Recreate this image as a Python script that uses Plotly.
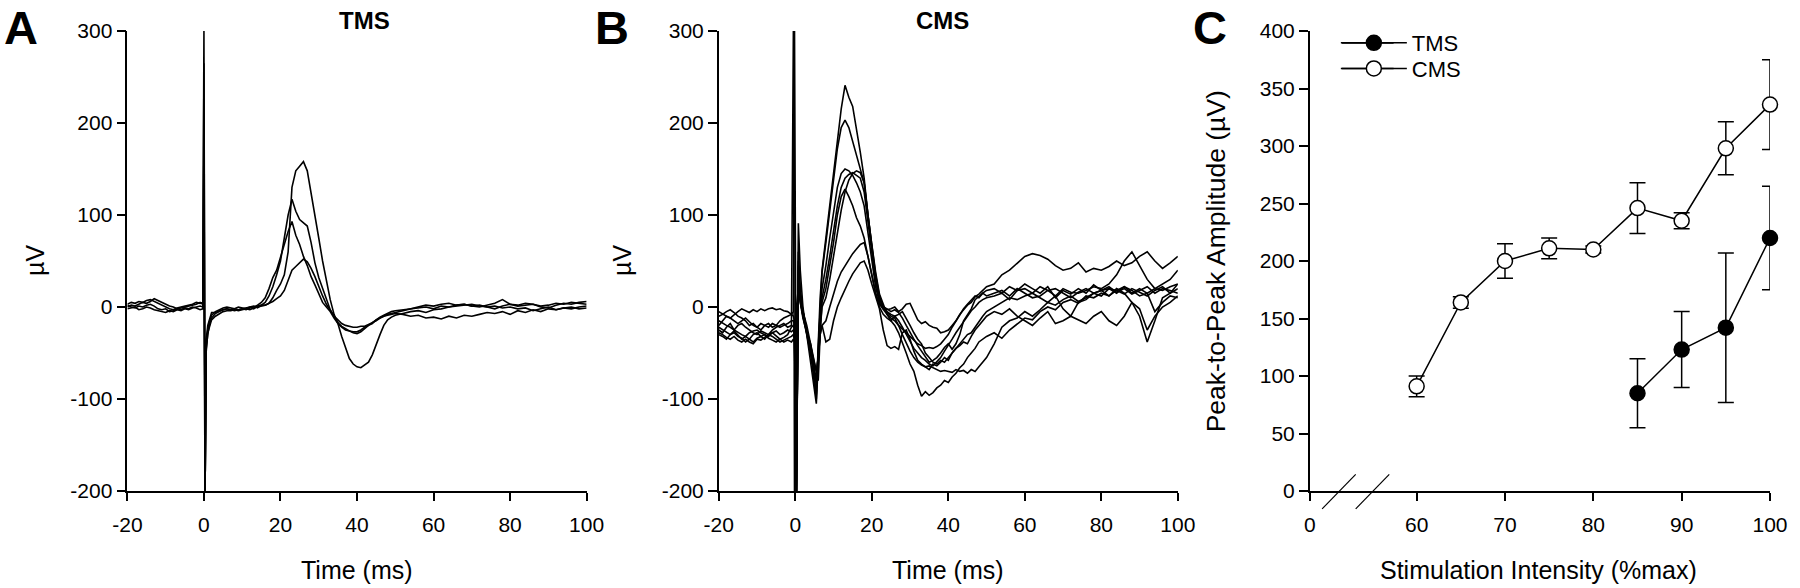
import plotly.graph_objects as go

W, H = 1800, 588
ML, MR, MT, MB = 127, 23, 31, 97
FONT = "Liberation Sans, Arial, sans-serif"

# ---------------- Panel A: TMS evoked traces (time in ms, amplitude in uV) ----------------
TIME_A = [-20, -19, -18, -17, -16, -15, -14, -13, -12, -11, -10, -9, -8, -7, -6, -5, -4, -3, -2, -1,
          -0.3, 0, 0.3, 0.6, 1, 1.5, 2,
          3, 4, 5, 6, 7, 8, 9, 10, 11, 12, 13, 14, 15, 16, 17, 18, 19, 20, 21, 22, 23, 24, 25, 26,
          27, 28, 29, 30, 31, 32, 33, 34, 35, 36, 37, 38, 39, 40, 41, 42, 43, 44, 45, 46, 47, 48, 49, 50,
          52, 54, 56, 58, 60, 62, 64, 66, 68, 70, 72, 74, 76, 78, 80, 82, 84, 86, 88, 90, 92, 94, 96, 98, 100]

TMS_TRACE_1 = [3, 5, 4, 6, 5, 7, 8, 6, 4, 2, 0, -2, -3, -1, 0, 1, 2, 3, 5, 4,
               5, 300, -200, -45, -30, -18, -12,
               -7, -5, -3, -2, -3, -2, -3, -2, -1, 0, -2, 1, 2, 2, 4, 10, 18, 25, 35, 60, 130, 148, 153, 158,
               148, 125, 100, 75, 50, 28, 8, -8, -18, -32, -45, -56, -62, -65, -66, -63, -60, -52, -40, -30, -20, -14, -11, -9,
               -7, -5, -4, -6, -3, -2, 0, 1, 2, 3, 1, 0, -2, 1, 3, 2, 4, 3, 1, 2, 4, 3, 5, 4, 3]
TMS_TRACE_2 = [0, 2, 1, 3, 5, 4, 6, 9, 7, 5, 3, 1, 0, -2, -1, 0, 1, 2, 3, 5,
               3, 265, -200, -40, -25, -15, -9,
               -5, -3, -1, 0, -1, -2, 0, -1, -2, 0, 1, -1, 2, 5, 12, 22, 35, 50, 75, 100, 117, 104, 95, 92,
               88, 70, 48, 32, 20, 10, -3, -10, -17, -21, -24, -26, -28, -29, -27, -23, -20, -18, -14, -12, -10, -8, -7, -6,
               -4, -2, 0, 2, 1, 3, 4, 2, 3, 1, 0, 2, 4, 8, 3, 1, 2, 3, 0, -1, 2, 4, 3, 5, 6]
TMS_TRACE_3 = [-2, -1, 0, -3, -2, 0, -1, -3, -4, -5, -6, -4, -5, -3, -4, -2, -3, -1, 0, 1,
               0, 180, -200, -35, -20, -12, -6,
               -6, -4, -3, -2, -3, -4, -3, -2, -3, -1, 0, 2, 5, 10, 20, 32, 40, 55, 70, 82, 93, 78, 68, 55,
               45, 33, 24, 14, 5, 0, -5, -12, -18, -22, -25, -26, -27, -27, -25, -22, -20, -17, -15, -12, -10, -9, -8, -7,
               -8, -10, -9, -12, -11, -13, -10, -12, -9, -10, -8, -6, -7, -5, -8, -4, -6, -3, -5, -2, -3, -1, -2, 0, 1]
TMS_TRACE_4 = [2, 0, -1, 1, 0, 2, 3, 1, -2, -3, -2, -5, -4, -2, -3, -1, -2, 0, -1, -3,
               -2, 22, -200, -48, -28, -20, -14,
               -10, -7, -5, -4, -4, -3, -4, -3, -2, -3, -1, 0, 1, 2, 4, 6, 9, 12, 18, 28, 40, 44, 48, 52,
               49, 42, 33, 22, 12, 3, -4, -10, -14, -18, -20, -21, -22, -22, -21, -21, -19, -17, -14, -11, -9, -7, -5, -4,
               -3, -2, -1, 0, -2, 1, 0, 2, 3, 1, 2, 0, 1, -1, 0, -2, -1, -4, -2, 0, -3, -1, 0, -2, -1]

# ---------------- Panel B: CMS evoked traces ----------------
TIME_B = [-20, -19, -18, -17, -16, -15, -14, -13, -12, -11, -10, -9, -8, -7, -6, -5, -4, -3, -2, -1,
          -0.5, -0.2, 0.3, 0.8, 1.3, 2, 3, 4, 4.5, 5, 5.5, 6, 6.5,
          7, 8, 9, 10, 11, 12, 13, 14, 15, 16, 17, 18, 19, 20, 21, 22, 23, 24, 25, 26,
          27, 28, 29, 30, 31, 32, 33, 34, 35, 36, 37, 38, 39, 40, 41, 42, 43, 44, 45, 46, 47, 48, 49, 50,
          52, 54, 56, 58, 60, 62, 64, 66, 68, 70, 72, 74, 76, 78, 80, 82, 84, 86, 88, 90, 92, 94, 96, 98, 100]

CMS_TRACE_1 = [-10, -8, -5, -3, -6, -10, -12, -15, -20, -18, -22, -25, -20, -18, -22, -20, -15, -12, -10, -8,
               -5, 300, -200, 30, 10, -5, -25, -45, -60, -80, -95, -40, 10,
               40, 75, 110, 145, 180, 215, 241, 228, 218, 195, 168, 140, 100, 68, 38, 14, 2, -8, -15, -20,
               -28, -38, -50, -62, -70, -85, -97, -92, -96, -93, -88, -85, -80, -82, -76, -72, -66, -62, -55, -50, -45, -38, -35, -32,
               -28, -34, -25, -18, -12, -14, -5, 0, -3, 5, 8, 4, 12, 10, 15, 12, 18, 14, 20, 16, 12, 18, 22, 15, 20]
CMS_TRACE_2 = [-15, -18, -20, -22, -25, -20, -18, -22, -25, -28, -30, -26, -28, -30, -25, -22, -20, -18, -22, -20,
               300, -200, 0, 20, 5, -8, -28, -50, -65, -85, -100, -45, 5,
               38, 70, 105, 140, 172, 195, 203, 195, 180, 165, 150, 135, 100, 65, 35, 12, 0, -6, -10, -12,
               -20, -30, -40, -48, -55, -60, -63, -65, -64, -66, -68, -70, -69, -70, -71, -68, -70, -69, -72, -68, -70, -65, -60, -55,
               -40, -22, -15, -12, -5, -10, -3, 5, 2, 8, 12, 6, 10, 15, 18, 20, 15, 22, 18, 12, 15, 20, 18, 22, 25]
CMS_TRACE_3 = [-20, -15, -10, -12, -8, -5, -2, -4, -6, -3, -5, -2, -4, -2, -1, -3, -2, -4, -5, -8,
               -10, -15, -200, 91, 40, 0, -30, -55, -70, -90, -105, -60, -5,
               20, 45, 75, 105, 130, 145, 150, 148, 143, 135, 125, 110, 80, 50, 22, 5, -2, -5, -8, -10,
               -15, -22, -30, -38, -45, -50, -55, -58, -62, -64, -60, -55, -48, -42, -35, -28, -22, -15, -10, -4, 0, 5, 8, 10,
               12, 15, 8, 18, 20, 15, 22, 18, 12, 20, 16, 15, 18, 22, 20, 25, 35, 50, 60, 45, 30, 20, 25, 30, 40]
CMS_TRACE_4 = [-25, -28, -22, -18, -25, -28, -30, -32, -28, -26, -25, -28, -30, -32, -28, -26, -30, -28, -25, -27,
               -25, -30, -200, 60, 20, -5, -25, -45, -60, -75, -85, -50, -10,
               10, 30, 55, 85, 110, 130, 140, 144, 146, 143, 140, 125, 95, 60, 28, 8, 0, -2, -5, -3,
               -6, -12, -20, -28, -35, -42, -48, -55, -60, -58, -55, -50, -44, -40, -46, -40, -30, -15, -8, -2, 8, 12, 15, 12,
               15, 18, 12, 20, 15, 10, 12, 18, 20, 15, 10, 16, 20, 15, 18, 12, 20, 15, 5, -10, -38, -15, 10, 15, 25]
CMS_TRACE_5 = [-22, -25, -28, -30, -26, -30, -35, -32, -35, -38, -34, -32, -35, -30, -28, -32, -35, -33, -30, -22,
               -20, -25, -200, 50, 15, -5, -20, -40, -55, -70, -80, -60, -20,
               5, 20, 45, 70, 100, 120, 128, 120, 110, 97, 88, 75, 55, 35, 15, 3, -3, -8, -12, -15,
               -20, -24, -28, -32, -36, -40, -42, -45, -44, -45, -43, -40, -35, -30, -22, -15, -8, -2, 3, 8, 12, 10, 15, 18,
               20, 15, 22, 18, 25, 20, 15, 22, 10, 18, 14, 20, 15, 24, 18, 22, 16, 20, 14, 18, 22, 15, 20, 18, 15]
CMS_TRACE_6 = [-28, -30, -33, -35, -32, -36, -38, -35, -38, -40, -35, -36, -33, -30, -32, -35, -38, -36, -34, -32,
               -30, -35, -200, 45, 10, -10, -30, -50, -60, -72, -75, -55, -25,
               0, 10, 30, 55, 80, 105, 125, 138, 145, 148, 146, 135, 100, 62, 30, 10, 0, -3, -2, 0,
               -5, -2, 3, 4, -5, -14, -18, -16, -20, -22, -23, -28, -27, -25, -20, -15, -8, -3, 2, 5, 11, 14, 18, 22,
               25, 35, 40, 48, 55, 58, 56, 52, 45, 40, 42, 48, 38, 42, 40, 44, 50, 45, 48, 55, 60, 50, 42, 48, 55]
CMS_TRACE_7 = [-5, -8, -10, -12, -15, -18, -15, -12, -16, -20, -22, -18, -20, -22, -18, -20, -22, -20, -18, -15,
               -15, -20, -200, 40, 8, -10, -25, -42, -52, -62, -70, -55, -30,
               -20, -15, 0, 15, 28, 38, 45, 52, 58, 63, 68, 70, 55, 35, 15, 0, -8, -12, -15, -10,
               -8, -5, -12, -20, -28, -35, -40, -50, -55, -60, -62, -58, -60, -55, -50, -45, -40, -35, -30, -28, -22, -15, -10, -5,
               0, 5, 10, 8, 12, 15, 10, 5, 12, -2, -10, 5, 8, 15, 12, 20, 18, 22, 15, 20, 15, -5, 5, 12, 10]
CMS_TRACE_8 = [-30, -32, -35, -30, -28, -32, -34, -38, -35, -30, -28, -32, -30, -34, -36, -38, -35, -38, -36, -38,
               -35, -38, -200, 35, 5, -12, -28, -40, -50, -60, -68, -80, -30,
               -20, -38, -35, -15, 0, 10, 20, 28, 36, 42, 48, 50, 40, 25, 10, -2, -25, -42, -45, -43,
               -46, -28, -25, -35, -48, -58, -62, -65, -68, -62, -64, -60, -55, -58, -50, -45, -42, -38, -40, -32, -25, -20, -15, -10,
               -5, -8, -2, -10, -15, -20, -12, -5, -18, -15, -10, -14, -18, -10, -5, -15, -20, -10, 5, -2, -25, -10, 0, 5, 12]

# ---------------- Panel C: peak-to-peak amplitude vs intensity ----------------
INTENSITY_TMS = [85, 90, 95, 100]
AMPLITUDE_TMS = [85, 123, 142, 220]
ERROR_TMS = [30, 33, 65, 45]

INTENSITY_CMS = [60, 65, 70, 75, 80, 85, 90, 95, 100]
AMPLITUDE_CMS = [91, 164, 200, 211, 210, 246, 235, 298, 336]
ERROR_CMS = [9, 5, 15, 9, 3, 22, 7, 23, 39]

# axis-break: the "0" label sits at this compressed axis position
C_ZERO_POS = 47.9
C_TICK_VALUES = [C_ZERO_POS, 60, 70, 80, 90, 100]
C_TICK_TEXT = ["0", "60", "70", "80", "90", "100"]
AB_Y_TICKS = [-200, -100, 0, 100, 200, 300]
AB_Y_TEXT = ["-200", "-100", "0", "100", "200", "300"]
AB_X_TICKS = [-20, 0, 20, 40, 60, 80, 100]
AB_X_TEXT = ["-20", "0", "20", "40", "60", "80", "100"]

PW = W - ML - MR
PH = H - MT - MB


def xp(px):
    return (px - ML) / PW


def yp(py):
    return (H - MB - py) / PH


fig = go.Figure()

for tr in [TMS_TRACE_1, TMS_TRACE_2, TMS_TRACE_3, TMS_TRACE_4]:
    fig.add_trace(go.Scatter(x=TIME_A, y=tr, mode="lines", xaxis="x", yaxis="y",
                             line=dict(color="black", width=1.6), showlegend=False, hoverinfo="skip"))

for tr in [CMS_TRACE_1, CMS_TRACE_2, CMS_TRACE_3, CMS_TRACE_4,
           CMS_TRACE_5, CMS_TRACE_6, CMS_TRACE_7, CMS_TRACE_8]:
    fig.add_trace(go.Scatter(x=TIME_B, y=tr, mode="lines", xaxis="x2", yaxis="y2",
                             line=dict(color="black", width=1.6), showlegend=False, hoverinfo="skip"))

fig.add_trace(go.Scatter(
    x=INTENSITY_TMS, y=AMPLITUDE_TMS, mode="lines+markers", name="TMS", xaxis="x3", yaxis="y3",
    legend="legend",
    line=dict(color="black", width=1.5),
    marker=dict(symbol="circle", size=15, color="black", line=dict(color="black", width=1.5)),
    error_y=dict(type="data", array=ERROR_TMS, visible=True, color="black", thickness=1.5, width=8),
    cliponaxis=False))
fig.add_trace(go.Scatter(
    x=INTENSITY_CMS, y=AMPLITUDE_CMS, mode="lines+markers", name="CMS", xaxis="x3", yaxis="y3",
    legend="legend2",
    line=dict(color="black", width=1.5),
    marker=dict(symbol="circle", size=15, color="white", line=dict(color="black", width=1.5)),
    error_y=dict(type="data", array=ERROR_CMS, visible=True, color="black", thickness=1.5, width=8),
    cliponaxis=False))

axis_common = dict(showline=True, linecolor="black", linewidth=1.6, ticks="outside",
                   tickcolor="black", tickwidth=1.5, showgrid=False, zeroline=False,
                   tickfont=dict(family=FONT, size=21, color="black"))

dA = [xp(127.4), xp(588.6)]
dB = [xp(721.3), xp(1182.3)]
dC = [xp(1314.8), 1.0]

legend_common = dict(xanchor="left", yanchor="middle", bgcolor="rgba(0,0,0,0)",
                     font=dict(family=FONT, size=22, color="black"),
                     itemsizing="trace", itemwidth=66)

fig.update_layout(
    width=W, height=H,
    margin=dict(l=ML, r=MR, t=MT, b=MB, pad=0),
    paper_bgcolor="white", plot_bgcolor="white",
    font=dict(family=FONT, color="black"),
    xaxis=dict(domain=dA, range=[-20, 100], tickvals=AB_X_TICKS, ticktext=AB_X_TEXT,
               ticklen=8, ticklabelstandoff=6, anchor="y", **axis_common),
    yaxis=dict(domain=[0, 1], range=[-200, 300], tickvals=AB_Y_TICKS, ticktext=AB_Y_TEXT,
               ticklen=9, anchor="x", **axis_common),
    xaxis2=dict(domain=dB, range=[-20, 100], tickvals=AB_X_TICKS, ticktext=AB_X_TEXT,
                ticklen=8, ticklabelstandoff=6, anchor="y2", **axis_common),
    yaxis2=dict(domain=[0, 1], range=[-200, 300], tickvals=AB_Y_TICKS, ticktext=AB_Y_TEXT,
                ticklen=9, anchor="x2", **axis_common),
    xaxis3=dict(domain=dC, range=[C_ZERO_POS, 100], tickvals=C_TICK_VALUES, ticktext=C_TICK_TEXT,
                ticklen=8, ticklabelstandoff=6, anchor="y3", **axis_common),
    yaxis3=dict(domain=[0, 1], range=[0, 400], dtick=50, tick0=0,
                ticklen=9, anchor="x3", **axis_common),
    legend=dict(x=xp(1341), y=yp(43), **legend_common),
    legend2=dict(x=xp(1341), y=yp(68.6), **legend_common),
    showlegend=True,
)

# axis-break marks on panel C
for x0, x1 in [(49.3, 53.1), (53.1, 56.9)]:
    fig.add_shape(type="line", xref="x3", yref="paper", x0=x0, x1=x1, y0=yp(508.8), y1=yp(474.3),
                  line=dict(color="black", width=1.2))

# longer legend sample lines (the legend markers sit on top of them)
for ly in [43, 68.6]:
    fig.add_shape(type="line", xref="paper", yref="paper", x0=xp(1347), x1=xp(1399),
                  y0=yp(ly), y1=yp(ly), line=dict(color="black", width=1.5))

ann = []


def add_text(text, px, py, size, angle=0, bold=False):
    ann.append(dict(text=f"<b>{text}</b>" if bold else text, x=xp(px), y=yp(py),
                    xref="paper", yref="paper", xanchor="center", yanchor="middle",
                    showarrow=False, textangle=angle,
                    font=dict(family=FONT, size=size, color="black")))


add_text("A", 21, 27, 47, bold=True)
add_text("B", 614, 27, 47, bold=True)
add_text("C", 1215, 27, 47, bold=True)
add_text("TMS", 365.5, 21, 24, bold=True)
add_text("CMS", 946, 21, 24, bold=True)
add_text("µV", 34.5, 260, 25, angle=-90)
add_text("µV", 624, 260, 25, angle=-90)
add_text("Time (ms)", 358, 570, 25)
add_text("Time (ms)", 951, 570, 25)
add_text("Stimulation Intensity (%max)", 1545, 570, 25)
add_text("Peak-to-Peak Amplitude (µV)", 1221, 261, 26.5, angle=-90)

fig.update_layout(annotations=ann)

fig.write_html("out.html")
